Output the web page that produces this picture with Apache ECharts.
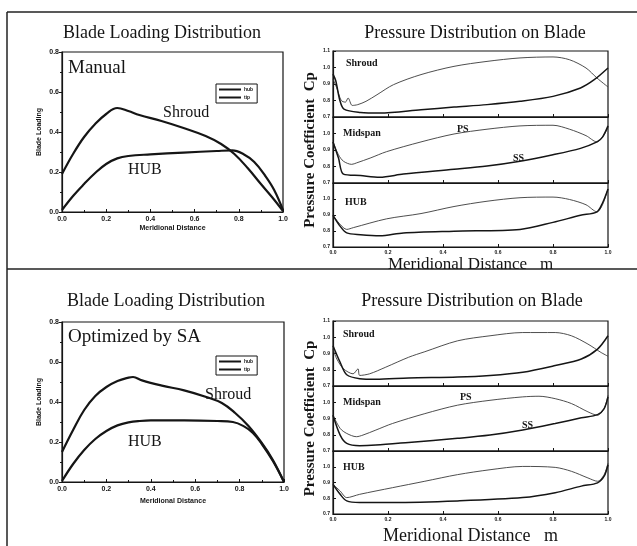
<!DOCTYPE html>
<html>
<head>
<meta charset="utf-8">
<title>Blade Loading / Pressure Distribution</title>
<script src="https://cdn.jsdelivr.net/npm/echarts/dist/echarts.min.js"></script>
<style>
  html, body { margin: 0; padding: 0; background: #fff; }
  #main { width: 637px; height: 546px; }
</style>
</head>
<body>
<div id="main"></div>
<script type="text/javascript">
// blade loading, [meridional distance, loading]
var manualShroud = [[0,0.19],[0.05,0.29],[0.1,0.375],[0.15,0.44],[0.2,0.49],[0.25,0.52],[0.3,0.505],[0.35,0.485],[0.45,0.455],[0.55,0.42],[0.65,0.38],[0.72,0.34],[0.78,0.29],[0.84,0.22],[0.9,0.14],[0.95,0.075],[1.0,0.005]];
var manualHub = [[0,0.01],[0.05,0.08],[0.1,0.14],[0.15,0.195],[0.2,0.24],[0.25,0.268],[0.3,0.28],[0.4,0.288],[0.55,0.297],[0.7,0.305],[0.77,0.308],[0.82,0.29],[0.87,0.25],[0.92,0.18],[0.96,0.11],[1.0,0.01]];
var optShroud = [[0,0.15],[0.05,0.26],[0.1,0.36],[0.15,0.43],[0.2,0.475],[0.25,0.505],[0.3,0.522],[0.32,0.525],[0.36,0.508],[0.45,0.482],[0.55,0.458],[0.65,0.425],[0.72,0.395],[0.78,0.345],[0.84,0.28],[0.9,0.195],[0.95,0.11],[1.0,0.0]];
var optHub = [[0,0.005],[0.05,0.09],[0.1,0.16],[0.15,0.215],[0.2,0.255],[0.25,0.283],[0.3,0.298],[0.35,0.305],[0.4,0.308],[0.55,0.308],[0.7,0.305],[0.77,0.3],[0.82,0.278],[0.86,0.245],[0.9,0.19],[0.95,0.105],[1.0,0.0]];

// pressure coefficient Cp, manual design
var mShroudPS = [[0,0.93],[0.015,0.87],[0.03,0.80],[0.045,0.79],[0.055,0.815],[0.07,0.77],[0.09,0.775],[0.12,0.795],[0.16,0.835],[0.22,0.896],[0.32,0.957],[0.44,1.007],[0.56,1.037],[0.68,1.058],[0.80,1.064],[0.86,1.047],[0.92,0.997],[0.96,0.936],[1.0,0.882]];
var mShroudSS = [[0,0.96],[0.01,0.92],[0.025,0.80],[0.04,0.748],[0.10,0.728],[0.17,0.724],[0.32,0.744],[0.44,0.76],[0.56,0.775],[0.68,0.795],[0.80,0.825],[0.90,0.876],[0.95,0.926],[1.0,0.997]];
var mMidPS = [[0,0.949],[0.02,0.871],[0.038,0.832],[0.068,0.813],[0.086,0.822],[0.135,0.851],[0.195,0.89],[0.32,0.949],[0.44,0.997],[0.56,1.026],[0.68,1.046],[0.80,1.05],[0.86,1.026],[0.92,0.987],[0.96,0.949],[0.98,0.978],[1.0,1.036]];
var mMidSS = [[0,0.949],[0.02,0.851],[0.038,0.754],[0.10,0.745],[0.17,0.735],[0.256,0.754],[0.44,0.783],[0.56,0.803],[0.68,0.832],[0.80,0.871],[0.90,0.91],[0.96,0.949],[0.98,0.978],[1.0,1.046]];
var mHubPS = [[0,0.898],[0.025,0.843],[0.05,0.81],[0.074,0.821],[0.195,0.876],[0.32,0.909],[0.44,0.953],[0.56,0.986],[0.68,1.008],[0.80,1.012],[0.86,0.997],[0.92,0.964],[0.96,0.92],[0.98,0.964],[1.0,1.063]];
var mHubSS = [[0,0.898],[0.025,0.832],[0.05,0.788],[0.10,0.777],[0.17,0.77],[0.256,0.788],[0.44,0.799],[0.68,0.81],[0.80,0.854],[0.90,0.898],[0.96,0.92],[0.98,0.975],[1.0,1.063]];

// pressure coefficient Cp, optimized by SA
var oShroudPS = [[0,0.927],[0.014,0.866],[0.038,0.806],[0.073,0.775],[0.091,0.806],[0.097,0.765],[0.133,0.775],[0.192,0.816],[0.275,0.877],[0.334,0.911],[0.453,0.978],[0.571,1.009],[0.69,1.029],[0.808,1.029],[0.867,1.009],[0.927,0.958],[0.974,0.907],[1.0,0.883]];
var oShroudSS = [[0,0.948],[0.026,0.846],[0.05,0.769],[0.097,0.745],[0.156,0.741],[0.275,0.749],[0.453,0.755],[0.571,0.765],[0.69,0.785],[0.808,0.826],[0.903,0.866],[0.962,0.927],[1.0,1.009]];
var oMidPS = [[0,0.92],[0.026,0.839],[0.05,0.808],[0.085,0.788],[0.109,0.798],[0.156,0.829],[0.216,0.869],[0.334,0.93],[0.453,0.982],[0.571,1.012],[0.69,1.033],[0.749,1.037],[0.808,1.022],[0.867,0.992],[0.927,0.941],[0.962,0.92],[0.986,0.961],[1.0,1.043]];
var oMidSS = [[0,0.92],[0.026,0.798],[0.05,0.747],[0.097,0.733],[0.156,0.737],[0.275,0.753],[0.453,0.778],[0.571,0.798],[0.69,0.829],[0.808,0.869],[0.903,0.904],[0.962,0.924],[0.986,0.961],[1.0,1.033]];
var oHubPS = [[0,0.888],[0.026,0.846],[0.05,0.804],[0.097,0.825],[0.216,0.867],[0.334,0.908],[0.453,0.95],[0.571,0.981],[0.69,1.002],[0.808,0.996],[0.867,0.971],[0.927,0.929],[0.962,0.908],[0.986,0.95],[1.0,1.023]];
var oHubSS = [[0,0.888],[0.026,0.825],[0.05,0.783],[0.097,0.773],[0.216,0.773],[0.453,0.783],[0.69,0.804],[0.808,0.835],[0.903,0.877],[0.962,0.898],[0.986,0.94],[1.0,1.013]];

var legendNames = ['hub', 'tip'];

var SERIF = '"Liberation Serif", "DejaVu Serif", serif';
var SANS = '"Liberation Sans", "DejaVu Sans", sans-serif';
var INK = '#151515';

function fmt(v){ return v.toFixed(1); }

var grids = [
  {left:62, top:52, width:221, height:160},
  {left:62, top:322, width:222, height:160},
  {left:333, top:51, width:275, height:66},
  {left:333, top:117, width:275, height:66},
  {left:333, top:183, width:275, height:64},
  {left:333, top:321, width:275, height:65},
  {left:333, top:386, width:275, height:65},
  {left:333, top:451, width:275, height:66}
];
grids.forEach(function(g){
  g.show = true; g.borderColor = INK; g.borderWidth = 1.2; g.backgroundColor = 'transparent';
});

var xAxes = [], yAxes = [], series = [];

// blade loading charts
[0,1].forEach(function(i){
  xAxes.push({
    type:'value', gridIndex:i, min:0, max:1, interval:0.2,
    axisLine:{lineStyle:{color:INK, width:1.2}},
    axisTick:{inside:true, length:3, lineStyle:{color:INK}},
    minorTick:{show:true, splitNumber:2, length:2, lineStyle:{color:INK}},
    axisLabel:{fontSize:7, fontWeight:'bold', fontFamily:SANS, color:INK, margin:4, formatter:fmt},
    splitLine:{show:false},
    name:'Meridional Distance', nameLocation:'middle', nameGap:i === 0 ? 13 : 16,
    nameTextStyle:{fontSize:7, fontWeight:'bold', fontFamily:SANS, color:INK}
  });
  yAxes.push({
    type:'value', gridIndex:i, min:0, max:0.8, interval:0.2,
    axisLine:{lineStyle:{color:INK, width:1.2}},
    axisTick:{inside:false, length:3, lineStyle:{color:INK}},
    minorTick:{show:true, splitNumber:2, length:2, lineStyle:{color:INK}},
    axisLabel:{fontSize:7, fontWeight:'bold', fontFamily:SANS, color:INK, margin:3, formatter:fmt},
    splitLine:{show:false},
    name:'Blade Loading', nameLocation:'middle', nameGap:19,
    nameTextStyle:{fontSize:7, fontWeight:'bold', fontFamily:SANS, color:INK}
  });
});

// pressure panels
for (var i = 2; i < 8; i++) {
  var pos = (i - 2) % 3;           // 0 top, 1 middle, 2 bottom
  var bottomHalf = i >= 5;
  var xa = {
    type:'value', gridIndex:i, min:0, max:1, interval:0.2,
    axisLine:{lineStyle:{color:INK, width:1.2}},
    axisTick:{inside:true, length:3, lineStyle:{color:INK}},
    axisLabel:{show:pos === 2, fontSize:5, fontWeight:'bold', fontFamily:SANS, color:INK, margin:3, formatter:fmt},
    splitLine:{show:false}
  };
  if (pos === 2) {
    xa.name = 'Meridional Distance   m';
    xa.nameLocation = 'middle';
    xa.nameGap = bottomHalf ? 13 : 2;
    xa.nameTextStyle = {fontSize:bottomHalf ? 18 : 17, fontFamily:SERIF, color:INK};
  }
  xAxes.push(xa);
  var ya = {
    type:'value', gridIndex:i, min:0.7, max:1.1, interval:0.1,
    axisLine:{lineStyle:{color:INK, width:1.2}},
    axisTick:{inside:true, length:3, lineStyle:{color:INK}},
    axisLabel:{fontSize:5, fontWeight:'bold', fontFamily:SANS, color:INK, margin:3, formatter:fmt, showMaxLabel:pos === 0},
    splitLine:{show:false}
  };
  if (pos === 1) {
    ya.name = 'Pressure Coefficient  Cp';
    ya.nameLocation = 'middle';
    ya.nameGap = 15;
    ya.nameTextStyle = {fontSize:15, fontWeight:'bold', fontFamily:SERIF, color:INK};
  }
  yAxes.push(ya);
}

function thick(name, data, idx){
  return {name:name, type:'line', xAxisIndex:idx, yAxisIndex:idx, data:data, showSymbol:false,
    smooth:0.4, lineStyle:{color:INK, width:2.2}, itemStyle:{color:INK}, silent:true};
}
function psLine(data, idx){
  return {type:'line', xAxisIndex:idx, yAxisIndex:idx, data:data, showSymbol:false,
    smooth:0.3, lineStyle:{color:'#3a3a3a', width:0.9}, silent:true};
}
function ssLine(data, idx){
  return {type:'line', xAxisIndex:idx, yAxisIndex:idx, data:data, showSymbol:false,
    smooth:0.3, lineStyle:{color:INK, width:1.5}, silent:true};
}

series.push(thick('hub', manualHub, 0));
series.push(thick('tip', manualShroud, 0));
series.push(thick('hub', optHub, 1));
series.push(thick('tip', optShroud, 1));
series.push(psLine(mShroudPS, 2), ssLine(mShroudSS, 2));
series.push(psLine(mMidPS, 3), ssLine(mMidSS, 3));
series.push(psLine(mHubPS, 4), ssLine(mHubSS, 4));
series.push(psLine(oShroudPS, 5), ssLine(oShroudSS, 5));
series.push(psLine(oMidPS, 6), ssLine(oMidSS, 6));
series.push(psLine(oHubPS, 7), ssLine(oHubSS, 7));

function legendBox(top){
  return {data:legendNames, left:216, top:top, orient:'vertical', icon:'rect',
    itemWidth:22, itemHeight:2, itemGap:3, padding:[3,4,3,3],
    borderColor:INK, borderWidth:1, selectedMode:false,
    textStyle:{fontSize:5, fontWeight:'bold', fontFamily:SANS, color:INK, padding:[0,0,0,-2]}};
}

function txt(x, y, s, font, align){
  return {type:'text', x:x, y:y, silent:true,
    style:{text:s, font:font, fill:INK, textAlign:align || 'left', textVerticalAlign:'middle',
      align:align || 'left', verticalAlign:'middle'}};
}
function hline(x1, y1, x2, y2){
  return {type:'line', silent:true, shape:{x1:x1, y1:y1, x2:x2, y2:y2}, style:{stroke:'#222', lineWidth:1.5}};
}

var tFont = '18px ' + SERIF;
var lFont = '16px ' + SERIF;
var pFont = 'bold 10px ' + SERIF;

var graphics = [
  hline(7, 12, 637, 12),
  hline(7, 12, 7, 546),
  hline(7, 269, 637, 269),
  // top half
  txt(162, 33, 'Blade Loading Distribution', tFont, 'center'),
  txt(475, 33, 'Pressure Distribution on Blade', tFont, 'center'),
  txt(68, 68, 'Manual', '19px ' + SERIF),
  txt(163, 113, 'Shroud', lFont),
  txt(128, 170, 'HUB', lFont),
  txt(346, 63, 'Shroud', pFont),
  txt(343, 133, 'Midspan', pFont),
  txt(457, 129, 'PS', pFont),
  txt(513, 158, 'SS', pFont),
  txt(345, 202, 'HUB', pFont),
  // bottom half
  txt(166, 301, 'Blade Loading Distribution', tFont, 'center'),
  txt(472, 301, 'Pressure Distribution on Blade', tFont, 'center'),
  txt(68, 337, 'Optimized by SA', '19px ' + SERIF),
  txt(205, 395, 'Shroud', lFont),
  txt(128, 442, 'HUB', lFont),
  txt(343, 334, 'Shroud', pFont),
  txt(343, 402, 'Midspan', pFont),
  txt(460, 397, 'PS', pFont),
  txt(522, 425, 'SS', pFont),
  txt(343, 467, 'HUB', pFont)
];

var chart = echarts.init(document.getElementById('main'));
chart.setOption({
  backgroundColor:'#fff',
  animation:false,
  grid:grids,
  xAxis:xAxes,
  yAxis:yAxes,
  legend:[legendBox(84), legendBox(356)],
  series:series,
  graphic:graphics
});
</script>
</body>
</html>
